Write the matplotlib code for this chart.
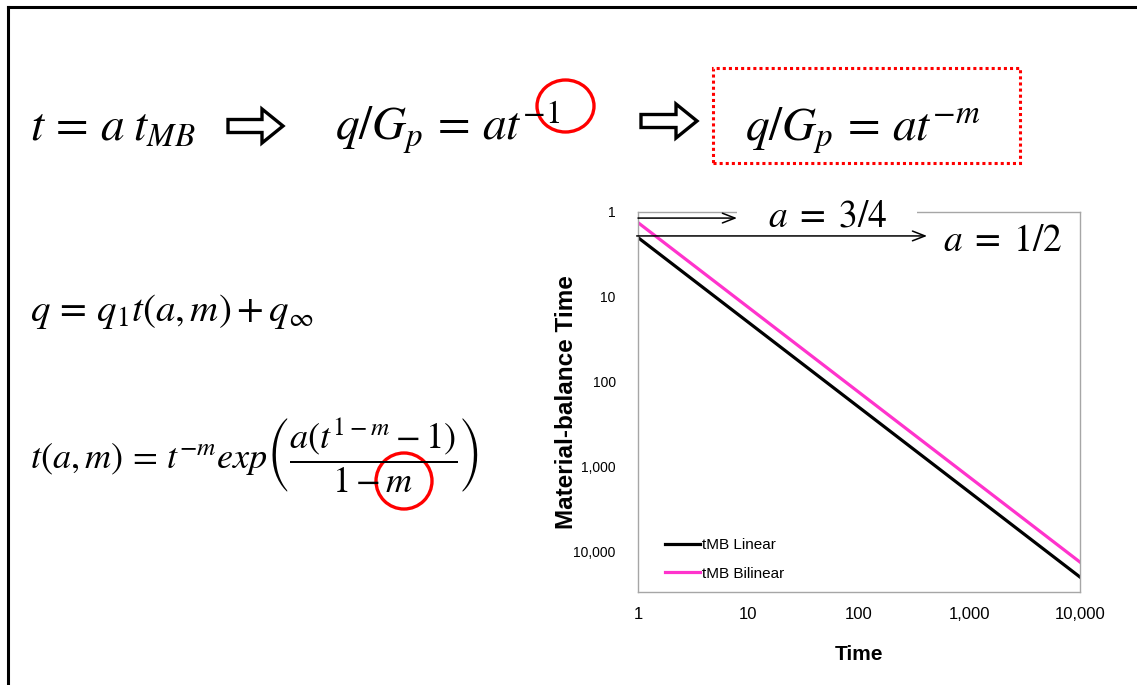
import matplotlib
matplotlib.use('Agg')
import matplotlib.pyplot as plt
from matplotlib.lines import Line2D
from matplotlib.patches import Polygon, Rectangle, Ellipse
from matplotlib.ticker import FixedLocator, FuncFormatter, NullLocator

plt.rcParams['font.family'] = ['Liberation Sans', 'DejaVu Sans']
plt.rcParams['mathtext.fontset'] = 'stix'

# data (material-balance time vs time, log-log)
time = [1, 10000]
tmb_linear = [2, 20000]       # a = 1/2
tmb_bilinear = [1.333, 13333]  # a = 3/4
x_ticks = [1, 10, 100, 1000, 10000]
y_ticks = [1, 10, 100, 1000, 10000]

W, H = 1137, 685
fig = plt.figure(figsize=(W / 100, H / 100), dpi=100)


def fx(x):
    return x / W


def fy(y):
    return 1 - y / H


# slide frame (top + left)
fig.add_artist(Line2D([fx(8), fx(8)], [fy(7), 0], color='black', lw=2.2))
fig.add_artist(Line2D([fx(8), 1], [fy(7), fy(7)], color='black', lw=2.2))


def hollow_arrow(x0, x1, yc, body=6.5, head=17, head_len=21):
    xh = x1 - head_len
    pts = [(x0, yc - body), (xh, yc - body), (xh, yc - head), (x1, yc),
           (xh, yc + head), (xh, yc + body), (x0, yc + body)]
    pts = [(fx(px), fy(py)) for px, py in pts]
    fig.add_artist(Polygon(pts, closed=True, facecolor='white', edgecolor='black',
                           lw=2.4, joinstyle='miter', transform=fig.transFigure))


# top row of equations
eq_size = 34
fig.text(fx(30), fy(141), r'$t\,=\,a\;t_{MB}$', fontsize=eq_size, va='baseline')
hollow_arrow(228, 283, 126)
fig.text(fx(335), fy(141), r'$q/G_p\,=\,at^{-1}$', fontsize=eq_size, va='baseline')
hollow_arrow(641, 697, 121)
fig.text(fx(745), fy(141), r'$q/G_p\,=\,at^{-m}$', fontsize=eq_size, va='baseline')

fig.add_artist(Rectangle((fx(713), fy(163)), fx(1020) - fx(713), fy(68) - fy(163),
                         fill=False, edgecolor='red', lw=2.2, linestyle=(0, (1, 1)),
                         transform=fig.transFigure))
fig.add_artist(Ellipse((fx(565.5), fy(106)), 57 / W, 52 / H, fill=False,
                       edgecolor='red', lw=2.4, transform=fig.transFigure))

# lower-left equations
fig.text(fx(30), fy(321), r'$q\,=\,q_1t(a,m)+q_{\infty}$', fontsize=28, va='baseline')
fig.text(fx(30), fy(455),
         r'$t(a,m)\,=\,t^{-m}exp\left(\dfrac{a(t^{1-m}-1)}{1-m}\right)$',
         fontsize=26, va='center')
fig.add_artist(Ellipse((fx(404), fy(481)), 56 / W, 56 / H, fill=False,
                       edgecolor='red', lw=2.4, transform=fig.transFigure))

# chart
ax = fig.add_axes([fx(638), fy(592), fx(1080) - fx(638), fy(212) - fy(592)])
ax.plot(time, tmb_linear, color='black', lw=2.3, label='tMB Linear')
ax.plot(time, tmb_bilinear, color='#ff33cc', lw=2.3, label='tMB Bilinear')
ax.set_xscale('log')
ax.set_yscale('log')
ax.set_xlim(1, 10000)
ax.set_ylim(30000, 1)

fmt = FuncFormatter(lambda v, p: '{:,.0f}'.format(v))
ax.xaxis.set_major_locator(FixedLocator(x_ticks))
ax.yaxis.set_major_locator(FixedLocator(y_ticks))
ax.xaxis.set_minor_locator(NullLocator())
ax.yaxis.set_minor_locator(NullLocator())
ax.xaxis.set_major_formatter(fmt)
ax.yaxis.set_major_formatter(fmt)
ax.tick_params(axis='x', length=0, labelsize=12, pad=11)
ax.tick_params(axis='y', length=0, labelsize=10, pad=16)
for s in ax.spines.values():
    s.set_color('#a6a6a6')
    s.set_linewidth(1)

ax.set_xlabel('Time', fontsize=15, fontweight='bold', labelpad=16)
ax.set_ylabel('Material-balance Time', fontsize=17.5, fontweight='bold', labelpad=-3)

ax.legend(loc='upper left', bbox_to_anchor=(0.061, 0.142), frameon=False,
          fontsize=11, handlelength=2.3, handletextpad=0.1, labelspacing=0.95,
          borderpad=0, borderaxespad=0)

# a annotations
ax.annotate('', xy=(0.224, 0.984), xytext=(0.0, 0.984), xycoords='axes fraction',
            arrowprops=dict(arrowstyle='->,head_length=0.9,head_width=0.35',
                            color='black', lw=1.1, shrinkA=0, shrinkB=0),
            annotation_clip=False)
ax.annotate('', xy=(0.654, 0.937), xytext=(-0.003, 0.937), xycoords='axes fraction',
            arrowprops=dict(arrowstyle='->,head_length=0.9,head_width=0.35',
                            color='black', lw=1.1, shrinkA=0, shrinkB=0),
            annotation_clip=False)
# white patch hiding the top spine behind the a = 3/4 label
ax.add_patch(Rectangle(((737 - 638) / 442, 0.985), (917 - 737) / 442, 0.04,
                       transform=ax.transAxes, facecolor='white', edgecolor='none',
                       clip_on=False, zorder=4))
ax.text(0.428, 0.987, r'$a\;=\;3/4$', transform=ax.transAxes, fontsize=27,
        ha='center', va='center', clip_on=False, zorder=5)
ax.text(0.824, 0.924, r'$a\;=\;1/2$', transform=ax.transAxes, fontsize=27,
        ha='center', va='center', clip_on=False, zorder=5)

fig.savefig('out.png', dpi=100)
